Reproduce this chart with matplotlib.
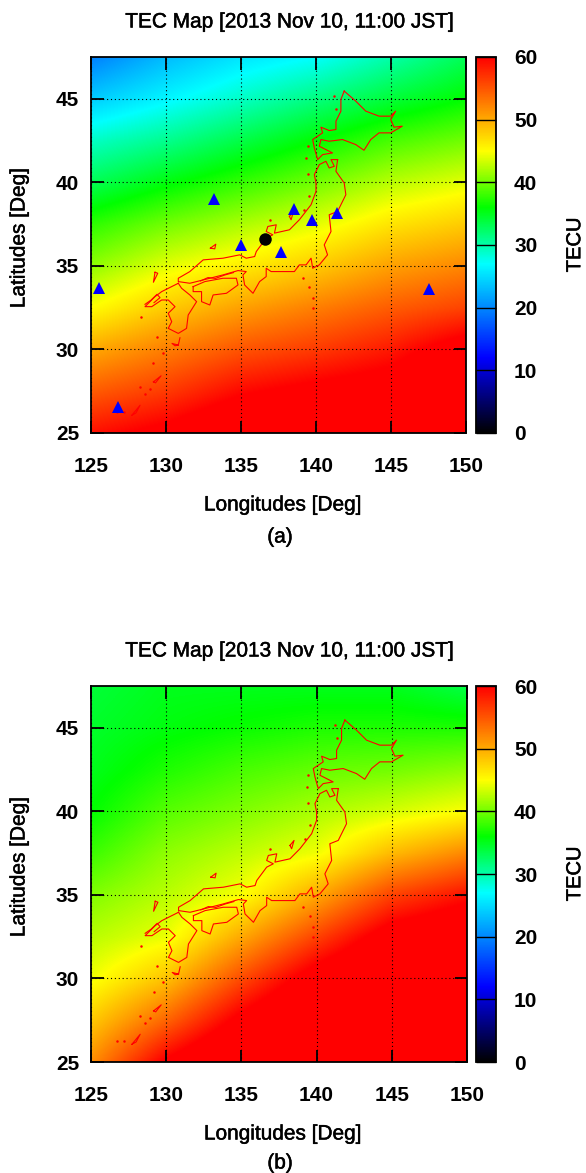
import matplotlib
matplotlib.use('Agg')
import matplotlib.pyplot as plt
import matplotlib.patheffects as pe
from matplotlib.colors import LinearSegmentedColormap
import numpy as np

plt.rcParams['font.family'] = ['Liberation Sans', 'DejaVu Sans']

# TEC values, rows go south to north
lons = [125, 130, 135, 140, 145, 150]
lats = [25, 27.5, 30, 32.5, 35, 37.5, 40, 42.5, 45, 47.5]
tec_a = [
    [59, 61, 64, 65, 66, 70],
    [54.5, 56.5, 59.5, 61, 62, 66],
    [50, 52.5, 55, 56.5, 58.5, 62],
    [45, 48, 50.5, 52.5, 54.5, 56],
    [41, 44, 46, 48, 50.5, 52],
    [37.5, 40, 42, 44, 46.5, 48],
    [33, 35.5, 37.8, 40, 42.5, 44],
    [29, 31, 33.5, 36, 38.5, 40],
    [24, 26.5, 29, 31.5, 34, 36],
    [19.5, 23, 25.5, 27, 30, 33],
]
tec_b = [
    [51.5, 60.5, 66, 70, 72, 74],
    [48, 54, 61, 66, 70, 72],
    [44.5, 48.5, 55.5, 62, 66, 68],
    [42.5, 44.3, 50, 56, 62, 64],
    [40.5, 42.5, 44.8, 50, 56, 59],
    [38, 41, 42.7, 44.5, 49, 52],
    [36, 39, 40.5, 42, 43.5, 45],
    [35, 37, 38.5, 39.5, 40, 41],
    [34.5, 35.5, 36.3, 37, 37, 37],
    [34, 35, 35, 35, 35, 33.5],
]

# colour stops of the palette (TEC value, colour)
palette_vals = [0, 12, 27, 36, 45, 60]
palette_cols = ['black', 'blue', 'cyan', 'lime', 'yellow', 'red']
tec_max = 60

# stations and reference point, panel (a) only
station_lon = [133.19, 135.0, 138.56, 139.71, 141.37, 137.68, 125.5, 147.52, 126.77]
station_lat = [39.02, 36.26, 38.42, 37.72, 38.16, 35.86, 33.66, 33.6, 26.56]
center_lon = [136.62]
center_lat = [36.62]

hokkaido = [(141.88, 45.46), (142.65, 44.86), (143.32, 44.26), (144.2, 43.96), (144.98, 43.96), (145.31, 44.26),
            (144.98, 43.76), (145.2, 43.3), (145.75, 43.36), (144.98, 42.96), (144.2, 42.96), (143.65, 42.56),
            (143.2, 41.92), (142.65, 42.26), (141.77, 42.56), (140.88, 42.46), (140.33, 42.56), (140.22, 42.16),
            (140.88, 41.86), (141.1, 41.76), (140.44, 41.66), (140.11, 41.36), (139.89, 42.06), (139.78, 42.56),
            (140.44, 42.96), (140.33, 43.3), (140.88, 43.1), (141.33, 43.16), (141.33, 43.66), (141.66, 44.26),
            (141.66, 44.96), (141.88, 45.46)]
honshu = [(141.44, 41.36), (141.33, 40.66), (141.88, 39.96), (141.99, 39.26), (141.44, 38.26), (140.88, 38.06),
          (141.0, 37.06), (140.55, 36.26), (140.77, 35.66), (140.22, 35.06), (139.78, 34.86), (139.67, 35.46),
          (139.34, 35.06), (138.89, 35.06), (138.56, 34.66), (138.0, 34.66), (137.01, 34.66), (136.68, 34.86),
          (136.68, 34.36), (136.24, 34.06), (135.8, 33.36), (135.24, 33.86), (135.13, 34.46), (135.35, 34.66),
          (134.8, 34.72), (133.8, 34.46), (132.48, 34.16), (131.59, 33.96), (130.82, 34.06), (130.82, 34.26),
          (131.59, 34.66), (132.48, 35.36), (133.8, 35.46), (134.91, 35.66), (135.35, 35.46), (135.91, 35.56),
          (136.02, 35.86), (136.68, 36.66), (137.12, 36.86), (136.68, 37.06), (136.79, 37.36), (137.35, 37.46),
          (137.23, 36.96), (138.23, 37.16), (138.89, 37.76), (139.67, 38.66), (140.0, 39.46), (140.0, 39.96),
          (139.89, 40.46), (140.22, 41.06), (140.66, 41.26), (140.88, 40.86), (141.22, 40.96), (141.0, 41.36),
          (141.44, 41.36)]
shikoku = [(131.81, 33.76), (132.59, 34.06), (133.8, 34.26), (134.69, 34.26), (134.8, 33.86), (134.03, 33.36),
           (133.14, 33.26), (132.92, 32.66), (132.37, 32.86), (132.37, 33.46), (131.81, 33.46), (131.81, 33.76)]
kyushu = [(130.82, 33.96), (129.71, 33.46), (129.27, 33.16), (128.6, 32.56), (129.05, 32.56), (129.71, 32.96),
          (130.15, 32.96), (130.6, 32.56), (130.15, 32.16), (130.38, 31.66), (130.15, 31.26), (130.82, 30.96),
          (131.37, 31.26), (131.48, 32.06), (132.04, 32.86), (131.59, 33.26), (131.04, 33.66), (130.82, 33.96)]
inland_sea = [(132.3, 34.1), (132.8, 34.3), (133.3, 34.25), (133.9, 34.45), (134.5, 34.6)]
goto = [(128.6, 32.7), (129.0, 32.95), (129.4, 33.3), (129.6, 33.1), (129.2, 32.8)]
sado = [(138.23, 37.96), (138.5, 38.26), (138.34, 37.76), (138.23, 37.96)]
oki = [(132.96, 36.06), (133.32, 36.3), (133.25, 36.02), (132.96, 36.06)]
tsushima = [(129.27, 34.62), (129.45, 34.56), (129.16, 34.02), (129.27, 34.62)]
tanegashima = [(130.93, 30.7), (130.82, 30.26), (130.4, 30.36), (130.6, 30.22), (130.82, 30.26)]
amami = [(129.16, 28.06), (129.67, 28.42), (129.3, 28.0), (129.16, 28.06)]
okinawa = [(127.72, 26.06), (128.27, 26.66), (128.0, 26.2), (127.72, 26.06)]
coast_parts = [hokkaido, honshu, shikoku, kyushu, inland_sea, goto, sado, oki, tsushima, tanegashima, amami, okinawa]
islet_lon = [128.34, 129.38, 129.82, 129.16, 128.94, 128.61, 128.27, 127.17, 126.73, 131.22, 139.12, 139.56,
             139.78, 139.78, 139.45, 139.34, 139.45, 139.56, 139.23, 136.9, 141.33, 141.22]
islet_lat = [31.96, 30.76, 29.76, 29.16, 27.66, 27.36, 27.76, 26.26, 26.26, 25.8, 34.26, 33.76,
             33.06, 32.46, 42.16, 41.46, 40.5, 39.16, 38.36, 37.76, 44.36, 45.16]

cmap = LinearSegmentedColormap.from_list(
    'tec', [(v / tec_max, c) for v, c in zip(palette_vals, palette_cols)], N=512)

W, H = 586, 1173
fig = plt.figure(figsize=(W / 100, H / 100), dpi=100)
heavy = [pe.withStroke(linewidth=0.35, foreground='black')]


def box(x0, y0, x1, y1):
    return [x0 / W, 1 - y1 / H, (x1 - x0) / W, (y1 - y0) / H]


def panel(tec, y0, y1, right, title, tag, tag_y):
    ax = fig.add_axes(box(91, y0, right, y1))
    dx = (lons[1] - lons[0]) / 2
    dy = (lats[1] - lats[0]) / 2
    im = ax.imshow(tec, origin='lower', aspect='auto', cmap=cmap, vmin=0, vmax=tec_max,
                   interpolation='bilinear',
                   extent=[lons[0] - dx, lons[-1] + dx, lats[0] - dy, lats[-1] + dy])
    for part in coast_parts:
        ax.plot([p[0] for p in part], [p[1] for p in part], color='red', lw=0.8, solid_joinstyle='round')
    ax.plot(islet_lon, islet_lat, ls='none', marker='o', ms=1.8, color='red', mew=0)
    ax.set_xlim(125, 150)
    ax.set_ylim(25, 47.5)
    ax.set_xticks(range(125, 151, 5))
    ax.set_yticks(range(25, 46, 5))
    ax.grid(True, color='black', ls=(0, (1, 2.5)), lw=0.8)
    ax.tick_params(direction='in', length=9, width=1.3, top=True, right=True, labelsize=15)
    ax.tick_params(axis='x', pad=17)
    ax.tick_params(axis='y', pad=8.5)
    for s in ax.spines.values():
        s.set_linewidth(1.3)
    for lab in ax.get_xticklabels() + ax.get_yticklabels():
        lab.set_fontweight('bold')
    ax.set_xlabel('Longitudes [Deg]', fontsize=15, va='center', path_effects=heavy)
    ax.set_ylabel('Latitudes [Deg]', fontsize=15, va='center', path_effects=heavy)
    h = y1 - y0
    ax.xaxis.set_label_coords(192 / (right - 91), -72 / h)
    ax.yaxis.set_label_coords(-72 / (right - 91), 0.519)

    cax = fig.add_axes(box(476, y0, 496, y1))
    cb = fig.colorbar(im, cax=cax)
    cb.set_ticks(range(0, 61, 10))
    cb.ax.tick_params(direction='in', length=14.4, width=1, labelsize=15, pad=13)
    cb.outline.set_linewidth(1.3)
    for lab in cb.ax.get_yticklabels():
        lab.set_fontweight('bold')
    cb.set_label('TECU', fontsize=14.5, labelpad=20, path_effects=heavy)

    fig.text(290 / W, 1 - (y0 - 35) / H, title, ha='center', va='center', fontsize=15, path_effects=heavy)
    fig.text(280 / W, 1 - tag_y / H, tag, ha='center', va='center', fontsize=15, path_effects=heavy)
    return ax


title_text = 'TEC Map [2013 Nov 10, 11:00 JST]'
ax_a = panel(tec_a, 57, 433, 466, title_text, '(a)', 537)
ax_a.plot(station_lon, station_lat, ls='none', marker='^', ms=9, color='blue', mew=0)
ax_a.plot(center_lon, center_lat, ls='none', marker='o', ms=9, color='black', mew=0)
ax_b = panel(tec_b, 686, 1062, 467, title_text, '(b)', 1163)

plt.savefig('out.png', dpi=100)
